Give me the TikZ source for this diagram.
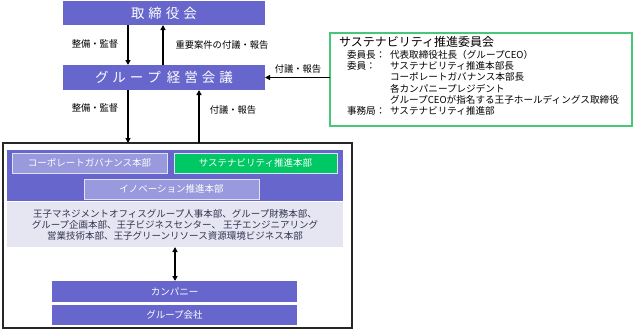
\documentclass[tikz,border=0pt]{standalone}
\usepackage{fontspec}
\setmainfont{Noto Sans CJK JP}
\usetikzlibrary{arrows.meta}
\definecolor{mainblue}{RGB}{102,102,204}
\definecolor{lightblue}{RGB}{153,153,221}
\definecolor{paleedge}{RGB}{225,225,245}
\definecolor{lavender}{RGB}{230,230,243}
\definecolor{susgreen}{RGB}{0,200,100}
\definecolor{comgreen}{RGB}{70,200,120}
\definecolor{bandtext}{RGB}{50,50,80}
\newcommand{\lsp}{\hspace{4pt}}
\begin{document}
\begin{tikzpicture}[x=1pt,y=-1pt,
  every node/.style={inner sep=0pt, outer sep=0pt},
  titlebox/.style={fill=mainblue, text=white, minimum width=202pt, font=\fontsize{13.5}{14}\selectfont},
  subbox/.style={fill=lightblue, draw=paleedge, line width=1pt, text=white, minimum height=20pt, font=\fontsize{9.5}{11}\selectfont},
  bluebar/.style={fill=mainblue, text=white, minimum width=245pt, font=\fontsize{9.5}{11}\selectfont},
  lbl/.style={font=\fontsize{9.3}{11}\selectfont, text=black},
  cmtext/.style={font=\fontsize{9.6}{11}\selectfont, anchor=west, text=black},
  arr/.style={-{Triangle[width=5pt,length=5pt]}, line width=1.6pt},
  darr/.style={{Triangle[width=5pt,length=5pt]}-{Triangle[width=5pt,length=5pt]}, line width=1.6pt}
]
\useasboundingbox (0,0) rectangle (635,333);

% top boxes
\node[titlebox, minimum height=24pt] (board) at (164,13) {取\lsp 締\lsp 役\lsp 会};
\node[titlebox, minimum height=25pt] (gmc) at (164,77.5) {グ\lsp ル\lsp ー\lsp プ\hspace{6pt}経\lsp 営\lsp 会\lsp 議};

% committee box
\node[draw=comgreen, line width=1.5pt, minimum width=302pt, minimum height=93pt] (committee) at (481,79.5) {};
\node[cmtext, font=\fontsize{12}{14}\selectfont] (ctitle) at (339,42) {サステナビリティ推進委員会};
\node[cmtext] (l1a) at (347,54.5) {委員長：};
\node[cmtext] (l1b) at (390,54.5) {代表取締役社長（グループCEO）};
\node[cmtext] (l2a) at (347,65.8) {委員：};
\node[cmtext] (l2b) at (390,65.8) {サステナビリティ推進本部長};
\node[cmtext] (l3b) at (390,77.1) {コーポレートガバナンス本部長};
\node[cmtext] (l4b) at (390,88.4) {各カンパニープレジデント};
\node[cmtext] (l5b) at (390,99.7) {グループCEOが指名する王子ホールディングス取締役};
\node[cmtext] (l6a) at (347,111) {事務局：};
\node[cmtext] (l6b) at (390,111) {サステナビリティ推進部};

% outer frame
\node[draw=black!85, line width=1.2pt, minimum width=349pt, minimum height=185pt] (outer) at (177.5,235.5) {};
\node[fill=mainblue, minimum width=336pt, minimum height=51pt] (band) at (175,175.5) {};
\node[subbox, minimum width=155pt] (cg) at (89.5,163) {コーポレートガバナンス本部};
\node[subbox, fill=susgreen, minimum width=163pt] (sus) at (255.5,163) {サステナビリティ推進本部};
\node[subbox, minimum width=175pt] (inno) at (171.5,189) {イノベーション推進本部};
\node[fill=lavender, minimum width=336pt, minimum height=45pt] (lav) at (175,224.5) {};
\node[align=center, text=bandtext, font=\fontsize{9.5}{11}\selectfont] (lavtext) at (175,224.5)
  {王子マネジメントオフィスグループ人事本部、グループ財務本部、\\
   グループ企画本部、王子ビジネスセンター、 王子エンジニアリング\\
   営業技術本部、王子グリーンリソース資源環境ビジネス本部};
\node[bluebar, minimum height=21pt] (company) at (174.5,291.5) {カンパニー};
\node[bluebar, minimum height=20pt] (group) at (174.5,315) {グループ会社};

% arrows
\coordinate (xa) at (128,0);
\coordinate (xb) at (163,0);
\coordinate (xc) at (199,0);
\draw[arr] (board.south -| xa) -- (gmc.north -| xa);
\draw[arr] (gmc.north -| xb) -- (board.south -| xb);
\draw[arr] (gmc.south -| xa) -- (outer.north -| xa);
\draw[arr] (outer.north -| xc) -- (gmc.south -| xc);
\draw[arr] (committee.west |- gmc.east) -- (gmc.east);
\draw[darr] (lav.south) -- (lav.south |- company.north);

% labels
\node[lbl] (t1) at (95,44) {整備・監督};
\node[lbl] (t2) at (222,45) {重要案件の付議・報告};
\node[lbl] (t3) at (95,108) {整備・監督};
\node[lbl] (t4) at (233,110) {付議・報告};
\node[lbl] (t5) at (298,69) {付議・報告};
\end{tikzpicture}
\end{document}
